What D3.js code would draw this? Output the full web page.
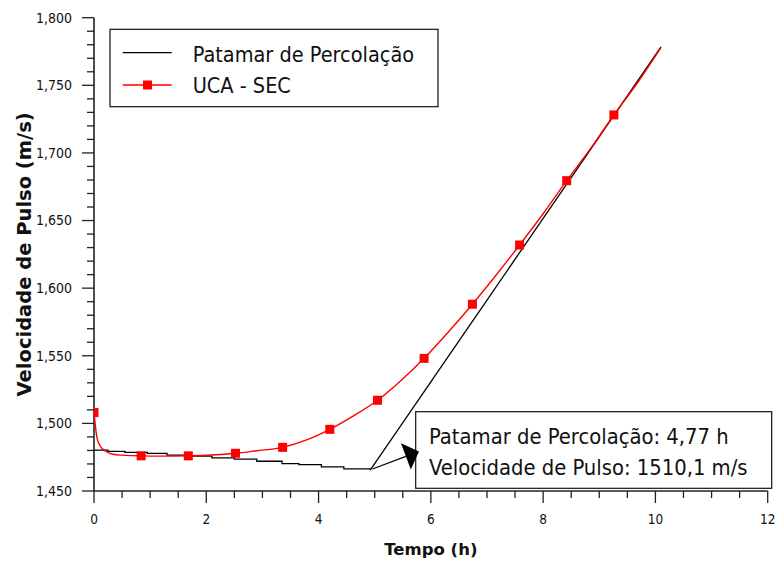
<!DOCTYPE html>
<html>
<head>
<meta charset="utf-8">
<script src="https://cdn.jsdelivr.net/npm/d3@7"></script>
<style>
  html, body { margin: 0; padding: 0; background: #fff; }
  svg { display: block; }
  text { font-family: "DejaVu Sans Condensed", "DejaVu Sans", sans-serif; font-stretch: condensed; fill: #111; }
  text.title { font-family: "DejaVu Sans", sans-serif; font-stretch: normal; font-weight: bold; }
</style>
</head>
<body>
<div id="chart"></div>
<script>
// Pulse velocity over time (h): UCA measurement and the percolation-threshold fit
const ucaTime  = [0, 0.02, 0.05, 0.1, 0.2, 0.32, 0.5, 0.84, 1.2, 1.68, 2.1, 2.52, 2.9, 3.36, 3.8, 4.2, 4.6, 5.05, 5.45, 5.88, 6.3, 6.74, 7.15, 7.58, 8.0, 8.42, 8.85, 9.26, 9.7, 10.1];
const ucaValue = [1508, 1500, 1490, 1484, 1479.6, 1477.4, 1476.5, 1476, 1475.8, 1476, 1476.6, 1477.9, 1479.8, 1482.3, 1488, 1495.6, 1505, 1517.1, 1531, 1548.1, 1567, 1588.1, 1609, 1631.9, 1655, 1679.5, 1703.5, 1728.1, 1753, 1777.9];
// sampled points that carry a marker
const markerTime  = [0, 0.84, 1.68, 2.52, 3.36, 4.2, 5.05, 5.88, 6.74, 7.58, 8.42, 9.26];
const markerValue = [1508, 1476, 1476, 1477.9, 1482.3, 1495.6, 1517.1, 1548.1, 1588.1, 1631.9, 1679.5, 1728.1];

// percolation threshold curve: stepped plateau, then straight rise
const plateauTime  = [0, 0.25, 0.55, 0.95, 1.3, 1.75, 2.1, 2.5, 2.9, 3.35, 3.65, 4.05, 4.45, 4.92];
const plateauValue = [1480.2, 1479.3, 1478.6, 1477.8, 1476.5, 1475.8, 1474.5, 1473.5, 1472, 1470.2, 1469.5, 1467.8, 1466.3, 1465.5];
const rampTime  = [4.92, 10.1];
const rampValue = [1465.5, 1778.5];

const xTicks = [0, 2, 4, 6, 8, 10, 12];
const yTicks = [1450, 1500, 1550, 1600, 1650, 1700, 1750, 1800];

const legendLabels = ["Patamar de Percolação", "UCA - SEC"];
const noteLines = ["Patamar de Percolação: 4,77 h", "Velocidade de Pulso: 1510,1 m/s"];
const xTitle = "Tempo (h)";
const yTitle = "Velocidade de Pulso (m/s)";

const W = 780, H = 563;
const svg = d3.select("#chart").append("svg").attr("width", W).attr("height", H);

const x = d3.scaleLinear().domain([0, 12]).range([94, 767.7]);
const y = d3.scaleLinear().domain([1450, 1800]).range([491, 17.7]);

const fmtY = d3.format(",");

// axes (no frame on top/right)
const axisColor = "#222";
const xAxis = svg.append("g").attr("transform", `translate(0,${y(1450)})`);
xAxis.append("line").attr("x1", x(0)).attr("x2", x(12)).attr("stroke", axisColor).attr("stroke-width", 1.6);
d3.range(0, 12.001, 0.5).forEach(v => {
  const major = Math.abs(v % 2) < 1e-9;
  xAxis.append("line").attr("x1", x(v)).attr("x2", x(v)).attr("y1", 0).attr("y2", major ? 12 : 7)
    .attr("stroke", axisColor).attr("stroke-width", 1.3);
});
xAxis.selectAll("text.tick").data(xTicks).join("text")
  .attr("x", d => x(d)).attr("y", 33).attr("text-anchor", "middle")
  .style("font-size", "13.5px").text(d => d);

const yAxis = svg.append("g").attr("transform", `translate(${x(0)},0)`);
yAxis.append("line").attr("y1", y(1450)).attr("y2", y(1800)).attr("stroke", axisColor).attr("stroke-width", 1.6);
d3.range(1450, 1800.001, 10).forEach(v => {
  const major = Math.abs(v % 50) < 1e-9;
  yAxis.append("line").attr("y1", y(v)).attr("y2", y(v)).attr("x1", 0).attr("x2", major ? -12 : -7)
    .attr("stroke", axisColor).attr("stroke-width", 1.3);
});
yAxis.selectAll("text.tick").data(yTicks).join("text")
  .attr("x", -22).attr("y", d => y(d)).attr("dy", "0.35em").attr("text-anchor", "end")
  .style("font-size", "14px").text(d => fmtY(d));

// axis titles
svg.append("text").attr("class", "title").attr("x", (x(0) + x(12)) / 2).attr("y", 555).attr("text-anchor", "middle")
  .style("font-size", "16.5px").text(xTitle);
svg.append("text").attr("class", "title").attr("transform", `translate(31,${(y(1450) + y(1800)) / 2}) rotate(-90)`)
  .attr("text-anchor", "middle").style("font-size", "19.5px").text(yTitle);

// percolation threshold line
const plateau = plateauTime.map((t, i) => [t, plateauValue[i]]);
const ramp = rampTime.map((t, i) => [t, rampValue[i]]);
svg.append("path").datum(plateau)
  .attr("d", d3.line().x(d => x(d[0])).y(d => y(d[1])).curve(d3.curveStepAfter))
  .attr("fill", "none").attr("stroke", "#000").attr("stroke-width", 1.3);
svg.append("path").datum(ramp)
  .attr("d", d3.line().x(d => x(d[0])).y(d => y(d[1])))
  .attr("fill", "none").attr("stroke", "#000").attr("stroke-width", 1.3);

// UCA line and markers
const uca = ucaTime.map((t, i) => [t, ucaValue[i]]);
svg.append("path").datum(uca)
  .attr("d", d3.line().x(d => x(d[0])).y(d => y(d[1])).curve(d3.curveMonotoneX))
  .attr("fill", "none").attr("stroke", "#ff0000").attr("stroke-width", 1.4);
const ms = 9;
svg.append("clipPath").attr("id", "plotClip").append("rect")
  .attr("x", x(0)).attr("y", 0).attr("width", x(12) - x(0) + 20).attr("height", y(1450));
svg.append("g").attr("clip-path", "url(#plotClip)")
  .selectAll("rect").data(markerTime.map((t, i) => [t, markerValue[i]])).join("rect")
  .attr("x", d => x(d[0]) - ms / 2).attr("y", d => y(d[1]) - ms / 2)
  .attr("width", ms).attr("height", ms).attr("fill", "#ff0000");

// legend
const lg = svg.append("g");
lg.append("rect").attr("x", 110).attr("y", 29.3).attr("width", 328).attr("height", 77.4)
  .attr("fill", "#fff").attr("stroke", "#111").attr("stroke-width", 1.2);
lg.append("line").attr("x1", 122.7).attr("x2", 171.7).attr("y1", 52.7).attr("y2", 52.7)
  .attr("stroke", "#000").attr("stroke-width", 1.3);
lg.append("line").attr("x1", 122.7).attr("x2", 171.7).attr("y1", 85).attr("y2", 85)
  .attr("stroke", "#ff0000").attr("stroke-width", 1.4);
lg.append("rect").attr("x", 147.5 - ms / 2).attr("y", 85 - ms / 2).attr("width", ms).attr("height", ms).attr("fill", "#ff0000");
lg.selectAll("text").data(legendLabels).join("text")
  .attr("x", 192.7).attr("y", (d, i) => 61.5 + i * 31.5)
  .style("font-size", "21.5px").text(d => d);

// annotation box with arrow pointing at the threshold kink
const ann = svg.append("g");
ann.append("rect").attr("x", 415.7).attr("y", 411.7).attr("width", 356).attr("height", 76.6)
  .attr("fill", "#fff").attr("stroke", "#111").attr("stroke-width", 1.2);
ann.selectAll("text").data(noteLines).join("text")
  .attr("x", 429).attr("y", (d, i) => 443.5 + i * 31.5)
  .style("font-size", "21.8px").text(d => d);

const from = [x(4.96), y(1466.3)];
const tip = [419, 451.5];
const ang = Math.atan2(tip[1] - from[1], tip[0] - from[0]);
const headLen = 14, headHalf = 14;
const bx = tip[0] - headLen * Math.cos(ang), by = tip[1] - headLen * Math.sin(ang);
ann.append("line").attr("x1", from[0]).attr("y1", from[1]).attr("x2", bx).attr("y2", by)
  .attr("stroke", "#000").attr("stroke-width", 1.2);
ann.append("polygon").attr("points", [
  [tip[0], tip[1]],
  [bx + headHalf * Math.sin(ang), by - headHalf * Math.cos(ang)],
  [bx - headHalf * Math.sin(ang), by + headHalf * Math.cos(ang)]
].map(p => p.join(",")).join(" ")).attr("fill", "#000");
</script>
</body>
</html>
